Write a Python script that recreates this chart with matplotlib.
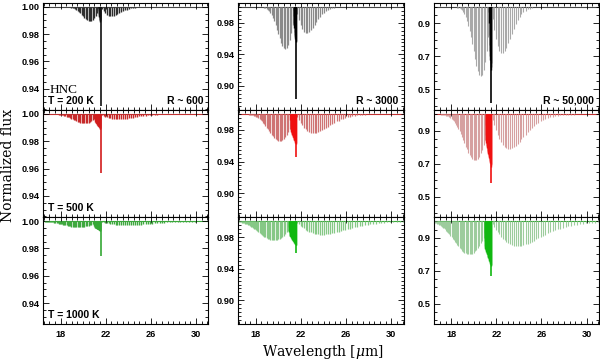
import matplotlib
matplotlib.use("Agg")
import matplotlib.pyplot as plt
from matplotlib.font_manager import FontProperties
from matplotlib.ticker import FixedLocator, MultipleLocator, FormatStrFormatter

# ---------------- data ----------------
TEMPS = ["T = 200 K", "T = 500 K", "T = 1000 K"]
RESOL = ["R ~ 600", "R ~ 3000", "R ~ 50,000"]

# R-branch line wavelengths (micron), from the band centre outward
R_WAVE = [21.411, 21.273, 21.137, 21.003, 20.871, 20.740, 20.611, 20.483, 20.357, 20.233,
          20.110, 19.989, 19.869, 19.750, 19.633, 19.518, 19.403, 19.290, 19.178, 19.068,
          18.959, 18.851, 18.744, 18.639, 18.534, 18.431, 18.329, 18.228, 18.128, 18.030,
          17.932, 17.835, 17.740, 17.645, 17.552, 17.459, 17.368, 17.277, 17.187, 17.099,
          17.011, 16.924, 16.838, 16.753, 16.669, 16.585, 16.502]
# P-branch line wavelengths (micron)
P_WAVE = [21.691, 21.834, 21.979, 22.126, 22.275, 22.426, 22.578, 22.733, 22.891, 23.050,
          23.212, 23.375, 23.542, 23.710, 23.881, 24.055, 24.231, 24.409, 24.591, 24.775,
          24.961, 25.151, 25.343, 25.539, 25.737, 25.939, 26.144, 26.352, 26.563, 26.778,
          26.997, 27.218, 27.444, 27.673, 27.906, 28.144, 28.385, 28.630, 28.880, 29.134,
          29.393, 29.656, 29.924, 30.197, 30.475, 30.758, 31.046]
# Q-branch (blended) positions and head
Q_WAVE = [21.54, 21.52, 21.50, 21.48, 21.46, 21.44, 21.42, 21.40, 21.38, 21.36,
          21.34, 21.32, 21.30, 21.28, 21.26, 21.24, 21.22, 21.20, 21.18, 21.16,
          21.14, 21.12, 21.10, 21.08, 21.06, 21.04, 21.02, 21.00, 20.98, 20.96]
Q_HEAD_WAVE = 21.56

# relative line strengths per temperature
R_REL_200 = [0.23, 0.44, 0.63, 0.79, 0.91, 0.98, 1.00, 0.98, 0.93, 0.85, 0.75, 0.64, 0.54,
             0.44, 0.34, 0.27, 0.20, 0.15, 0.10, 0.07, 0.05, 0.03, 0.02, 0.01, 0.01]
P_REL_200 = [0.26, 0.49, 0.69, 0.85, 0.95, 1.00, 1.00, 0.96, 0.89, 0.79, 0.69, 0.58, 0.47,
             0.37, 0.29, 0.22, 0.16, 0.11, 0.08, 0.05, 0.04, 0.02, 0.01, 0.01, 0.01]
R_REL_500 = [0.15, 0.29, 0.43, 0.56, 0.67, 0.77, 0.85, 0.92, 0.96, 0.99, 1.00, 0.99, 0.97,
             0.93, 0.88, 0.83, 0.76, 0.70, 0.63, 0.56, 0.50, 0.43, 0.37, 0.32, 0.27, 0.23,
             0.19, 0.15, 0.12, 0.10, 0.08, 0.06, 0.05, 0.04, 0.03, 0.02, 0.02, 0.01, 0.01, 0.01]
P_REL_500 = [0.16, 0.31, 0.46, 0.59, 0.71, 0.81, 0.89, 0.94, 0.98, 1.00, 1.00, 0.98, 0.95,
             0.91, 0.85, 0.79, 0.72, 0.66, 0.59, 0.52, 0.45, 0.39, 0.34, 0.28, 0.24, 0.20,
             0.16, 0.13, 0.11, 0.08, 0.07, 0.05, 0.04, 0.03, 0.02, 0.02, 0.01, 0.01, 0.01]
R_REL_1000 = [0.11, 0.21, 0.31, 0.41, 0.50, 0.59, 0.67, 0.75, 0.81, 0.87, 0.91, 0.95, 0.98,
              0.99, 1.00, 1.00, 0.99, 0.97, 0.95, 0.92, 0.89, 0.85, 0.81, 0.76, 0.71, 0.67,
              0.62, 0.57, 0.52, 0.48, 0.43, 0.39, 0.35, 0.31, 0.28, 0.24, 0.21, 0.19, 0.16,
              0.14, 0.12, 0.10, 0.09, 0.08, 0.06, 0.05, 0.04]
P_REL_1000 = [0.11, 0.22, 0.33, 0.43, 0.53, 0.62, 0.70, 0.77, 0.83, 0.89, 0.93, 0.96, 0.98,
              1.00, 1.00, 0.99, 0.98, 0.96, 0.93, 0.90, 0.86, 0.82, 0.78, 0.73, 0.68, 0.63,
              0.59, 0.54, 0.49, 0.44, 0.40, 0.36, 0.32, 0.29, 0.25, 0.22, 0.20, 0.17, 0.15,
              0.13, 0.11, 0.09, 0.08, 0.07, 0.06, 0.05, 0.04]
Q_REL_200 = [1.00, 0.95, 0.90, 0.85, 0.78, 0.70, 0.60, 0.45, 0.25, 0.08]
Q_REL_500 = [1.00, 0.97, 0.95, 0.93, 0.91, 0.89, 0.87, 0.85, 0.83, 0.81, 0.79, 0.77, 0.75,
             0.73, 0.71, 0.69, 0.67, 0.65, 0.63, 0.61, 0.58, 0.55, 0.50, 0.40, 0.20]
Q_REL_1000 = [1.00, 0.98, 0.97, 0.95, 0.94, 0.92, 0.91, 0.89, 0.88, 0.86, 0.85, 0.83, 0.82,
              0.80, 0.79, 0.77, 0.76, 0.74, 0.73, 0.71, 0.70, 0.68, 0.67, 0.65, 0.64, 0.62,
              0.60, 0.55, 0.45, 0.25]

R_REL = [R_REL_200, R_REL_500, R_REL_1000]
P_REL = [P_REL_200, P_REL_500, P_REL_1000]
Q_REL = [Q_REL_200, Q_REL_500, Q_REL_1000]

# peak absorption depths per panel [temperature][resolution]
R_PEAK = [[0.0105, 0.053, 0.42], [0.0068, 0.034, 0.28], [0.0044, 0.024, 0.20]]
P_PEAK = [[0.0070, 0.033, 0.28], [0.0040, 0.024, 0.21], [0.0030, 0.017, 0.15]]
Q_BLOCK = [[0.011, 0.045, 0.38], [0.011, 0.038, 0.32], [0.007, 0.030, 0.27]]
Q_HEAD = [[0.073, 0.117, 0.58], [0.043, 0.054, 0.42], [0.0257, 0.040, 0.33]]

# axis settings per resolution column
YLIMS = [(0.9245, 1.003), (0.8697, 1.0053), (0.376, 1.026)]
YTICKS = [[0.94, 0.96, 0.98, 1.00], [0.90, 0.94, 0.98], [0.5, 0.7, 0.9]]
YMINOR = [0.005, 0.005, 0.05]
YFMT = ["%.2f", "%.2f", "%.1f"]
XTICKS = [18, 22, 26, 30]
XLIM = (16.45, 31.1)

# colours [temperature][resolution]
LINE_COLORS = [["#2e2e2e", "#8a8a8a", "#a9a9a9"],
               ["#c62a2a", "#cf7474", "#d6a0a0"],
               ["#3fa83f", "#86c886", "#9dcc9d"]]
Q_COLORS = [["#111111", "#000000", "#000000"],
            ["#d21c1c", "#f01010", "#f01010"],
            ["#35a835", "#10b810", "#10b810"]]
CONT_COLORS = ["#444444", "#c03030", "#3aa83a"]
LWS = [1.0, 0.9, 0.8]

TICKFONT = FontProperties(family="Liberation Sans", weight="bold", size=6.6)
LABFONT = dict(family="Liberation Sans", weight="bold", size=7.5)

plt.rcParams["mathtext.fontset"] = "dejavuserif"

fig = plt.figure(figsize=(6.0, 3.62), dpi=100)
gs = fig.add_gridspec(3, 3, left=0.0717, right=0.9983, bottom=0.1042, top=0.9925,
                      wspace=0.182, hspace=0.0)

for i in range(3):
    for j in range(3):
        ax = fig.add_subplot(gs[i, j])
        lw = LWS[j]
        ax.axhline(1.0, color=CONT_COLORS[i], lw=0.8, zorder=1)
        rw = [w for w, _ in zip(R_WAVE, R_REL[i])]
        ax.vlines(rw, [1.0 - R_PEAK[i][j] * r for r in R_REL[i]], 1.0,
                  color=LINE_COLORS[i][j], lw=lw, zorder=2)
        pw = [w for w, _ in zip(P_WAVE, P_REL[i])]
        ax.vlines(pw, [1.0 - P_PEAK[i][j] * r for r in P_REL[i]], 1.0,
                  color=LINE_COLORS[i][j], lw=lw, zorder=2)
        qw = [w for w, _ in zip(Q_WAVE, Q_REL[i])]
        ax.vlines(qw, [1.0 - Q_BLOCK[i][j] * r for r in Q_REL[i]], 1.0,
                  color=Q_COLORS[i][j], lw=1.0, zorder=3)
        ax.vlines([Q_HEAD_WAVE], [1.0 - Q_HEAD[i][j]], 1.0,
                  color=Q_COLORS[i][j], lw=1.2, zorder=3)

        ax.set_xlim(*XLIM)
        ax.set_ylim(*YLIMS[j])
        ax.xaxis.set_major_locator(FixedLocator(XTICKS))
        ax.xaxis.set_minor_locator(MultipleLocator(0.5))
        ax.yaxis.set_major_locator(FixedLocator(YTICKS[j]))
        ax.yaxis.set_minor_locator(MultipleLocator(YMINOR[j]))
        ax.yaxis.set_major_formatter(FormatStrFormatter(YFMT[j]))
        ax.tick_params(which="both", direction="in", top=True, right=True, width=0.6)
        ax.tick_params(which="major", length=4, pad=2.5)
        ax.tick_params(which="minor", length=2)
        ax.tick_params(axis="x", which="major", pad=4)
        for sp in ax.spines.values():
            sp.set_linewidth(0.8)
        for lab in ax.get_yticklabels():
            lab.set_fontproperties(TICKFONT)
        if i < 2:
            ax.set_xticklabels([])
        else:
            for lab in ax.get_xticklabels():
                lab.set_fontproperties(TICKFONT)

        if j == 0:
            ax.text(0.03, 0.085, TEMPS[i], transform=ax.transAxes, ha="left", va="center",
                    **LABFONT)
        if i == 0:
            ax.text(0.97, 0.085, RESOL[j], transform=ax.transAxes, ha="right", va="center",
                    **LABFONT)
        if i == 0 and j == 0:
            ax.text(0.04, 0.19, "HNC", transform=ax.transAxes, ha="left", va="center",
                    family="Liberation Serif", size=9.5)

fig.text(0.014, 0.542, "Normalized flux", rotation=90, ha="center", va="center",
         family="DejaVu Serif", size=10)
fig.text(0.5375, 0.029, r"Wavelength [$\mu$m]", ha="center", va="center",
         family="DejaVu Serif", size=10)

fig.savefig("out.png", dpi=100)
